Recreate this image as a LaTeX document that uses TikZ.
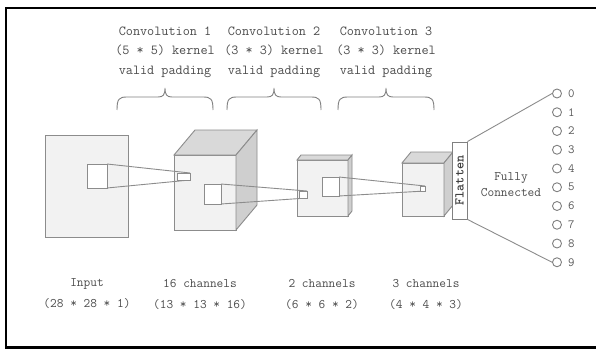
\documentclass[tikz,border=0pt]{standalone}
\usepackage{fontspec}
\begin{document}
\begin{tikzpicture}[x=1pt,y=-1pt,
  edge/.style={draw=black!45, line width=0.9pt},
  frontface/.style={edge, fill=black!5},
  topface/.style={edge, fill=black!15},
  sideface/.style={edge, fill=black!19},
  kern/.style={edge, fill=white},
  toplbl/.style={font=\ttfamily\fontsize{13.8}{19.5}\selectfont, text=black!70, align=center, inner sep=0pt},
  botlbl/.style={font=\ttfamily\fontsize{13}{21}\selectfont, text=black!70, align=center, inner sep=0pt},
  outc/.style={circle, draw=black!50, line width=0.9pt, minimum size=9pt, inner sep=0pt},
  digit/.style={font=\ttfamily\fontsize{12.5}{12}\selectfont, text=black!65, inner sep=0pt, anchor=west},
  bracepath/.style={draw=black!50, line width=0.9pt}
]
\useasboundingbox (0,0) rectangle (596,350);
\clip (0,0) rectangle (596,350);
\fill[white] (0,0) rectangle (596,350);
\draw[line width=2.2pt] (6,8) rectangle (640,347.5);

\newcommand\mycube[6]{%
  \filldraw[frontface] (#1,#2) rectangle ++(#3,#4);
  \filldraw[topface] (#1,#2) -- ++(#5,#6) -- ++(#3,0) -- ++(-#5,-#6) -- cycle;
  \filldraw[sideface] (#1+#3,#2) -- ++(#5,#6) -- ++(0,#4) -- ++(-#5,-#6) -- cycle;
}
\newcommand\mybrace[3]{% left, right, centre
  \draw[bracepath] (#1,110) .. controls (#1,99) and (#1+2,97) .. (#1+10,97)
    -- (#3-7,97) .. controls (#3-2,97) and (#3,95) .. (#3,88)
    .. controls (#3,95) and (#3+2,97) .. (#3+7,97)
    -- (#2-10,97) .. controls (#2-2,97) and (#2,99) .. (#2,110);
}

% top labels
\node[toplbl] (t1) at (165,52) {Convolution 1\\(5 * 5) kernel\\valid padding};
\node[toplbl] (t2) at (274,52) {Convolution 2\\(3 * 3) kernel\\valid padding};
\node[toplbl] (t3) at (386,52) {Convolution 3\\(3 * 3) kernel\\valid padding};
\mybrace{117}{213}{165}
\mybrace{227}{321}{274}
\mybrace{338}{434}{386}

% input
\filldraw[frontface] (45,135) rectangle (128,237);
% cubes
\mycube{174}{155}{62}{75}{21}{-25}
\mycube{297}{160}{51}{56}{4}{-5}
\mycube{402}{163}{42}{53}{9}{-11}

% kernel 1
\filldraw[kern] (87,164) rectangle (107,188);
\draw[edge] (107,164) -- (190,173);
\draw[edge] (107,188) -- (190,180);
\filldraw[kern] (177,173) rectangle (190,180);
% kernel 2
\filldraw[kern] (204,184) rectangle (221,204);
\draw[edge] (221,184) -- (307,191);
\draw[edge] (221,204) -- (307,198);
\filldraw[kern] (299,191) rectangle (307,198);
% kernel 3
\filldraw[kern] (322,177) rectangle (339,196);
\draw[edge] (339,177) -- (425,186);
\draw[edge] (339,196) -- (425,191);
\filldraw[kern] (420,186) rectangle (425,191);

% flatten
\node[draw=black!50, line width=0.9pt, fill=white, minimum width=15pt, minimum height=77pt, inner sep=0pt] (flat) at (459.5,180.5) {};
\node[rotate=90, font=\ttfamily\bfseries\fontsize{13.5}{14}\selectfont, text=black!75, inner sep=0pt] (flattxt) at (flat.center) {Flatten};

\node[font=\ttfamily\fontsize{13}{16}\selectfont, text=black!70, align=center, inner sep=0pt] (fc) at (511,185) {Fully\\Connected};

% outputs
\foreach \i in {0,...,9} {
  \node[outc] (o\i) at (557,93.5+18.75*\i) {};
  \node[digit] (d\i) at (568,93.5+18.75*\i) {\i};
}
\draw[edge] (flat.north east) -- (o0.west);
\draw[edge] (flat.south east) -- (o9.west);

% bottom labels
\node[botlbl] (b1) at (87,294) {Input\\(28 * 28 * 1)};
\node[botlbl] (b2) at (200,294) {16 channels\\(13 * 13 * 16)};
\node[botlbl] (b3) at (322,294) {2 channels\\(6 * 6 * 2)};
\node[botlbl] (b4) at (426,294) {3 channels\\(4 * 4 * 3)};
\end{tikzpicture}
\end{document}
